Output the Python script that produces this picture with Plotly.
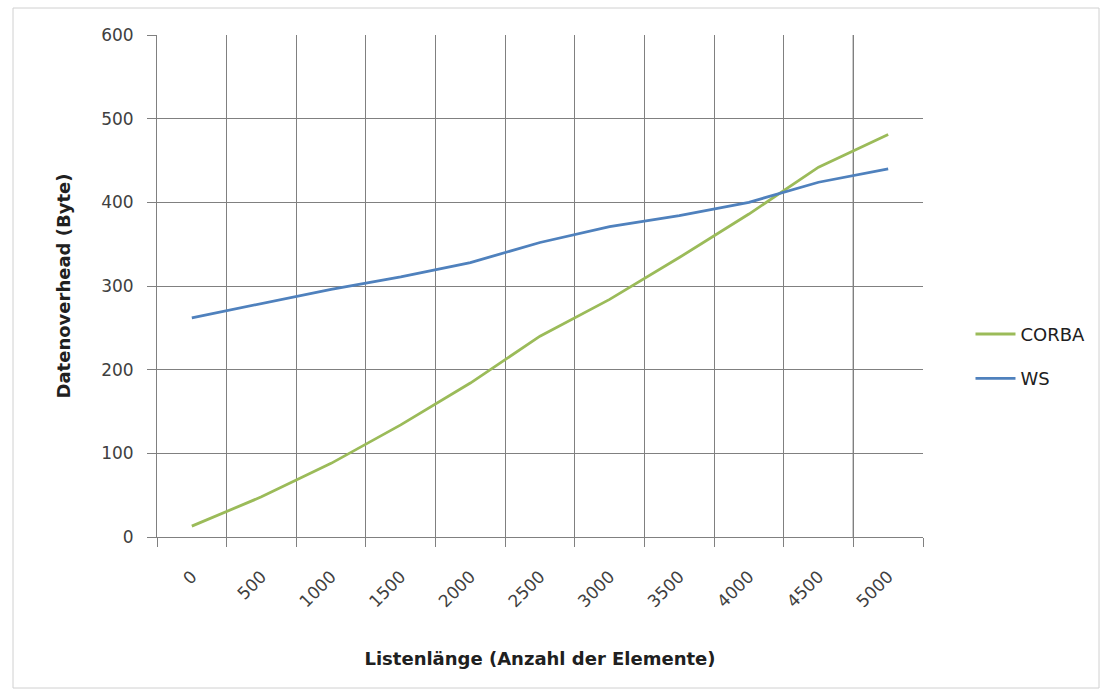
import plotly.graph_objects as go

listen_laenge = [0, 500, 1000, 1500, 2000, 2500, 3000, 3500, 4000, 4500, 5000]
corba = [13, 48, 88, 134, 184, 240, 284, 334, 386, 442, 481]
ws = [262, 279, 296, 311, 328, 352, 371, 384, 400, 424, 440]
x_tick_labels = [str(v) for v in listen_laenge]
y_ticks = [0, 100, 200, 300, 400, 500, 600]

step = listen_laenge[1] - listen_laenge[0]
bounds = [v - step / 2 for v in listen_laenge] + [listen_laenge[-1] + step / 2]

FONT = "'DejaVu Sans', 'Liberation Sans', sans-serif"
GRID = "#808080"

fig = go.Figure()
fig.add_trace(go.Scatter(x=listen_laenge, y=corba, mode="lines", name="CORBA",
                         legendgroup="a",
                         line=dict(color="#9BBB59", width=2.8)))
fig.add_trace(go.Scatter(x=listen_laenge, y=ws, mode="lines", name="WS",
                         legendgroup="b",
                         line=dict(color="#4F81BD", width=2.8)))

fig.update_layout(
    width=1100, height=696,
    margin=dict(l=157, r=177, t=35, b=159, autoexpand=False),
    paper_bgcolor="white", plot_bgcolor="white",
    font=dict(family=FONT, size=17, color="#404040"),
    showlegend=True,
    legend=dict(x=1.062, y=0.36, xanchor="left", yanchor="middle",
                font=dict(size=18, color="#202020"), bgcolor="rgba(0,0,0,0)",
                itemwidth=40, tracegroupgap=18),
    xaxis=dict(
        range=[bounds[0], bounds[-1]],
        tickmode="array", tickvals=listen_laenge, ticktext=x_tick_labels,
        tickangle=-45, ticks="", showgrid=False,
        showline=True, linecolor=GRID, linewidth=1,
        tickfont=dict(size=17, color="#404040"),
        ticklabelstandoff=22,
        minor=dict(tickmode="array", tickvals=bounds, showgrid=True,
                   gridcolor=GRID, gridwidth=1, ticks="outside",
                   ticklen=9, tickcolor=GRID),
        title=dict(text="<b>Listenlänge (Anzahl der Elemente)</b>",
                   font=dict(size=18, color="#202020"), standoff=42),
        zeroline=False,
    ),
    yaxis=dict(
        range=[0, 600], tickmode="array", tickvals=y_ticks,
        showgrid=True, gridcolor=GRID, gridwidth=1,
        ticks="outside", ticklen=9, tickcolor=GRID,
        showline=True, linecolor=GRID, linewidth=1,
        tickfont=dict(size=17, color="#404040"),
        ticklabelstandoff=10,
        title=dict(text="<b>Datenoverhead (Byte)</b>",
                   font=dict(size=18, color="#202020"), standoff=25),
        zeroline=False,
    ),
    shapes=[
        dict(type="rect", xref="paper", yref="paper",
             x0=(13 - 157) / 766, x1=(1099 - 157) / 766,
             y0=(537 - 688) / 502, y1=(537 - 8) / 502,
             line=dict(color="#d0d0d0", width=1), layer="below"),
        dict(type="line", xref="x", yref="paper",
             x0=bounds[-2], x1=bounds[-2], y0=0, y1=1,
             line=dict(color="#303030", width=1.2), layer="below"),
    ],
)

fig.write_html("out.html")
